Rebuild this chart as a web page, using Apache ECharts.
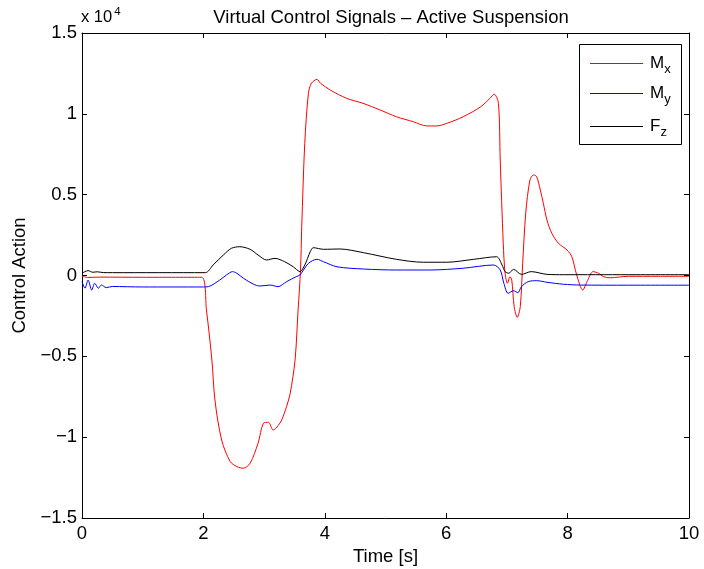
<!DOCTYPE html>
<html>
<head>
<meta charset="utf-8">
<script src="https://cdn.jsdelivr.net/npm/echarts@6/dist/echarts.min.js"></script>
<style>html,body{margin:0;padding:0;background:#fff}#c{width:704px;height:569px}</style>
</head>
<body>
<div id="c"></div>
<script>
// ---- data ----
const seriesNames = ['Mx', 'My', 'Fz'];
const seriesColors = ['#ff0000', '#0000ff', '#000000'];
const xTicks = [0, 2, 4, 6, 8, 10];
const yTicks = [-15000, -10000, -5000, 0, 5000, 10000, 15000];

const mxT = [0, 0.1, 0.3, 1.0, 1.97, 2.05, 2.14, 2.19, 2.30, 2.44, 2.55, 2.66, 2.77, 2.90, 2.99, 3.07, 3.15, 3.23, 3.29, 3.37, 3.43, 3.51, 3.56, 3.60, 3.62, 3.67, 3.73, 3.78, 3.87, 3.93, 4.09, 4.36, 4.63, 4.91, 5.18, 5.46, 5.68, 5.84, 6.01, 6.28, 6.57, 6.72, 6.79, 6.86, 6.89, 6.94, 6.97, 7.01, 7.05, 7.08, 7.12, 7.17, 7.22, 7.26, 7.31, 7.38, 7.44, 7.49, 7.55, 7.60, 7.66, 7.74, 7.85, 7.99, 8.07, 8.15, 8.25, 8.32, 8.42, 8.51, 8.59, 8.70, 9.0, 9.5, 10];
const mxV = [-50, -120, -100, -110, -110, -2130, -5230, -7700, -10170, -11500, -11820, -11920, -11610, -10380, -9140, -9080, -9560, -9290, -8940, -8110, -7290, -5230, -2130, 340, 3020, 8180, 11270, 11890, 12130, 11890, 11470, 10960, 10650, 10240, 9820, 9510, 9250, 9250, 9410, 9820, 10440, 10960, 11220, 10650, 7140, 1990, 140, -480, -70, -280, -1930, -2590, -1930, 750, 3850, 5910, 6220, 6110, 5290, 4470, 3430, 2610, 1990, 1580, 1160, 30, -900, -380, 240, 140, -70, -140, -50, -50, -50];

const myT = [0, 0.05, 0.1, 0.16, 0.21, 0.27, 0.32, 0.4, 0.5, 1.0, 2.0, 2.08, 2.27, 2.38, 2.48, 2.55, 2.66, 2.82, 2.93, 3.10, 3.23, 3.37, 3.53, 3.59, 3.73, 3.87, 3.98, 4.20, 4.64, 5.18, 5.73, 6.28, 6.78, 6.89, 6.95, 7.02, 7.11, 7.18, 7.24, 7.35, 7.49, 7.66, 7.93, 8.21, 9.0, 10];
const myV = [-380, -790, -280, -900, -480, -790, -590, -750, -680, -710, -710, -690, -280, 30, 240, 140, -170, -530, -650, -590, -690, -380, -70, 30, 750, 1000, 850, 540, 400, 340, 340, 450, 650, 340, -480, -1100, -940, -1060, -690, -380, -320, -420, -540, -590, -600, -600];

const fzT = [0, 0.05, 0.1, 0.18, 0.25, 0.35, 0.5, 2.03, 2.16, 2.33, 2.46, 2.60, 2.77, 2.90, 3.04, 3.18, 3.34, 3.48, 3.59, 3.67, 3.76, 3.81, 3.98, 4.25, 4.64, 5.18, 5.62, 6.01, 6.45, 6.83, 6.92, 6.97, 7.03, 7.11, 7.24, 7.40, 7.66, 7.93, 9.0, 10];
const fzV = [140, 240, 300, 200, 230, 180, 175, 175, 650, 1270, 1680, 1780, 1620, 1270, 960, 1060, 850, 540, 240, 650, 1470, 1720, 1620, 1640, 1410, 1000, 820, 820, 1000, 1160, 650, 240, 140, 380, 70, 240, 70, 50, 50, 50];

const FONT = '"Liberation Sans", Arial, Helvetica, sans-serif';
const FS = 18.5;
const pair = (ts, vs) => ts.map((t, i) => [t, vs[i]]);
const yFmt = v => {
  const s = String(Math.abs(v / 10000));
  return v < 0 ? '\u2212' + s : s;
};

// legend box layout (pixels)
const LG = {left: 579, top: 44, width: 102, height: 100, lineX0: 590, lineX1: 643, textX: 650, rows: [63, 93, 126]};
const legendGraphics = [{
  type: 'rect', z: 100,
  shape: {x: LG.left + 0.5, y: LG.top + 0.5, width: LG.width, height: LG.height},
  style: {fill: '#fff', stroke: '#000', lineWidth: 1}
}];
seriesNames.forEach((n, i) => {
  const y = LG.rows[i] + 0.5;
  legendGraphics.push({
    type: 'line', z: 101,
    shape: {x1: LG.lineX0, y1: y, x2: LG.lineX1, y2: y},
    style: {stroke: seriesColors[i], lineWidth: 1}
  });
  legendGraphics.push({
    type: 'text', z: 101, x: LG.textX, y: LG.rows[i],
    style: {
      text: '{m|' + n[0] + '}{s|' + n[1] + '}', fill: '#000',
      verticalAlign: 'middle', align: 'left',
      rich: {
        m: {fontFamily: FONT, fontSize: 17, fill: '#000'},
        s: {fontFamily: FONT, fontSize: 13, fill: '#000', padding: [12, 0, 0, 0]}
      }
    }
  });
});

const chart = echarts.init(document.getElementById('c'), null, {renderer: 'canvas'});
const tickCommon = {show: true, inside: true, length: 5, lineStyle: {color: '#000', width: 1}};
const lineCommon = {show: true, onZero: false, lineStyle: {color: '#000', width: 1}};
const seriesData = [pair(mxT, mxV), pair(myT, myV), pair(fzT, fzV)];
chart.setOption({
  animation: false,
  backgroundColor: '#fff',
  textStyle: {fontFamily: FONT},
  title: {
    text: 'Virtual Control Signals \u2013 Active Suspension',
    left: 386, top: 3, textAlign: 'center',
    textStyle: {fontFamily: FONT, fontSize: FS, fontWeight: 'normal', color: '#000'}
  },
  grid: {left: 82, right: 15, top: 33, bottom: 51, show: false, containLabel: false, outerBoundsMode: 'none'},
  graphic: [{
    type: 'text', left: 81, top: 6,
    style: {
      text: '{a|x 10}{b|4}', fill: '#000',
      rich: {
        a: {fontFamily: FONT, fontSize: 16.5, fill: '#000'},
        b: {fontFamily: FONT, fontSize: 11.5, fill: '#000', padding: [0, 0, 11, 2]}
      }
    }
  }].concat(legendGraphics),
  xAxis: [{
    type: 'value', min: 0, max: 10, interval: 2, position: 'bottom',
    axisLine: lineCommon,
    axisTick: tickCommon,
    axisLabel: {color: '#000', fontSize: FS, fontFamily: FONT, margin: 6},
    splitLine: {show: false},
    name: 'Time [s]', nameLocation: 'middle', nameGap: 29,
    nameTextStyle: {color: '#000', fontSize: FS, fontFamily: FONT}
  }, {
    type: 'value', min: 0, max: 10, interval: 2, position: 'top',
    axisLine: lineCommon,
    axisTick: tickCommon, axisLabel: {show: false}, splitLine: {show: false}
  }],
  yAxis: [{
    type: 'value', min: -15000, max: 15000, interval: 5000, position: 'left',
    axisLine: lineCommon,
    axisTick: tickCommon,
    axisLabel: {color: '#000', fontSize: FS, fontFamily: FONT, margin: 5, formatter: yFmt},
    splitLine: {show: false},
    name: 'Control Action', nameLocation: 'middle', nameGap: 52, nameRotate: 90,
    nameTextStyle: {color: '#000', fontSize: FS, fontFamily: FONT}
  }, {
    type: 'value', min: -15000, max: 15000, interval: 5000, position: 'right',
    axisLine: lineCommon,
    axisTick: tickCommon, axisLabel: {show: false}, splitLine: {show: false}
  }],
  series: seriesNames.map((n, i) => ({
    name: n, type: 'line', data: seriesData[i], symbol: 'none', showSymbol: false, smooth: 0.3,
    itemStyle: {color: seriesColors[i]},
    lineStyle: {width: 1, color: seriesColors[i]}
  }))
});
</script>
</body>
</html>
